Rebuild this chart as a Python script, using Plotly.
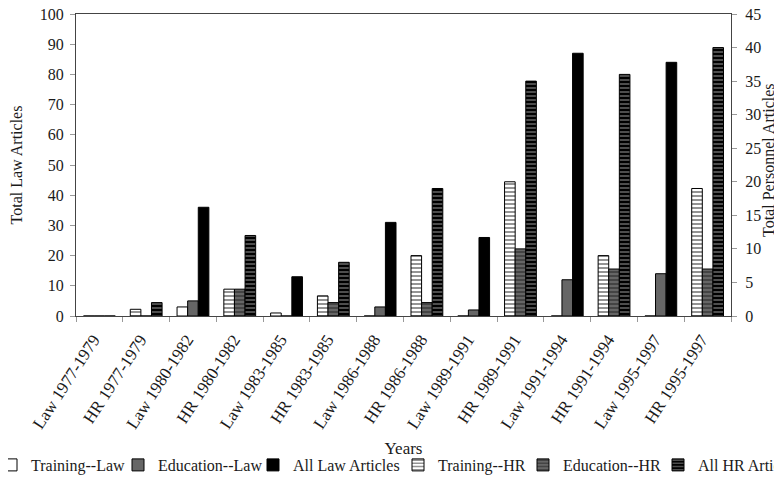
import plotly.graph_objects as go

categories = ["Law 1977-1979", "HR 1977-1979", "Law 1980-1982", "HR 1980-1982",
              "Law 1983-1985", "HR 1983-1985", "Law 1986-1988", "HR 1986-1988",
              "Law 1989-1991", "HR 1989-1991", "Law 1991-1994", "HR 1991-1994",
              "Law 1995-1997", "HR 1995-1997"]
law_categories = categories[0::2]
hr_categories = categories[1::2]

training_law = [0, 3, 1, 0, 0, 0, 0]
education_law = [0, 5, 0, 3, 2, 12, 14]
all_law = [0, 36, 13, 31, 26, 87, 84]

training_hr = [1, 4, 3, 9, 20, 9, 19]
education_hr = [0, 4, 2, 2, 10, 7, 7]
all_hr = [2, 12, 8, 19, 35, 36, 40]

FONT = "Liberation Serif"
TXT = "#1a1a1a"
# the page body adds an 8px margin, so the canvas is sized to fit the window
W, H = 766, 471
PL, PR, PT, PB = 68, 723, 6, 308
PW, PH = PR - PL, PB - PT

line = dict(color="black", width=1)
fig = go.Figure()
fig.add_trace(go.Bar(name="Training--Law", x=law_categories, y=training_law, yaxis="y",
                     offsetgroup="t", legend="legend", legendwidth=82,
                     marker=dict(color="white", line=line)))
fig.add_trace(go.Bar(name="Education--Law", x=law_categories, y=education_law, yaxis="y",
                     offsetgroup="e", legend="legend", legendwidth=90,
                     marker=dict(color="#666666", line=line)))
fig.add_trace(go.Bar(name="All Law Articles", x=law_categories, y=all_law, yaxis="y",
                     offsetgroup="a", legend="legend",
                     marker=dict(color="black", line=line)))
fig.add_trace(go.Bar(name="Training--HR", x=hr_categories, y=training_hr, yaxis="y2",
                     offsetgroup="t", legend="legend2", legendwidth=80,
                     marker=dict(color="white", line=line,
                                 pattern=dict(shape="-", bgcolor="white", fgcolor="#111111",
                                              size=4, solidity=0.45))))
fig.add_trace(go.Bar(name="Education--HR", x=hr_categories, y=education_hr, yaxis="y2",
                     offsetgroup="e", legend="legend2", legendwidth=90,
                     marker=dict(color="#666666", line=line,
                                 pattern=dict(shape="-", bgcolor="#666666", fgcolor="#111111",
                                              size=4, solidity=0.4))))
fig.add_trace(go.Bar(name="All HR Articles", x=hr_categories, y=all_hr, yaxis="y2",
                     offsetgroup="a", legend="legend2",
                     marker=dict(color="black", line=line,
                                 pattern=dict(shape="-", bgcolor="black", fgcolor="#dddddd",
                                              size=4, solidity=0.35))))

axis_line = "#444444"
tick_col = "#999999"
leg_y = -(457 - PB) / PH
leg_common = dict(orientation="h", xanchor="left", y=leg_y, yanchor="middle",
                  font=dict(family=FONT, size=16, color=TXT),
                  bgcolor="rgba(0,0,0,0)", traceorder="normal")
fig.update_layout(
    width=W, height=H,
    margin=dict(l=PL, r=W - PR, t=PT, b=H - PB, autoexpand=False),
    paper_bgcolor="white", plot_bgcolor="white",
    font=dict(family=FONT, size=16, color=TXT),
    barmode="group", bargap=0.32, bargroupgap=0,
    showlegend=True,
    legend=dict(x=(-17 - PL) / PW, **leg_common),
    legend2=dict(x=(390 - PL) / PW, **leg_common),
    xaxis=dict(type="category", categoryorder="array", categoryarray=categories,
               tickangle=-57, tickson="boundaries", ticks="outside", ticklen=5,
               tickcolor=tick_col, tickfont=dict(family=FONT, size=17, color=TXT),
               ticklabelshift=-6, ticklabelstandoff=6,
               showline=True, linecolor=axis_line, linewidth=1,
               mirror=True, showgrid=False, zeroline=False,
               title=dict(text="Years", standoff=10, font=dict(family=FONT, size=17))),
    yaxis=dict(range=[0, 100], dtick=10, ticks="outside", ticklen=5, tickcolor=tick_col,
               ticklabelstandoff=3, ticklabeloverflow="allow",
               showline=True, linecolor=axis_line, linewidth=1, showgrid=False,
               zeroline=False,
               title=dict(text="Total Law Articles", standoff=20,
                          font=dict(family=FONT, size=16))),
    yaxis2=dict(range=[0, 45], dtick=5, overlaying="y", side="right", ticks="outside",
                ticklen=5, tickcolor=tick_col, ticklabelstandoff=5,
                ticklabeloverflow="allow",
                showline=True, linecolor=axis_line,
                linewidth=1, showgrid=False, zeroline=False),
    annotations=[dict(text="Total Personnel Articles", xref="paper", yref="paper",
                      x=1, y=(PB - 152) / PH, xshift=37, xanchor="center",
                      yanchor="middle", textangle=-90, showarrow=False,
                      font=dict(family=FONT, size=16, color=TXT))],
)

fig.write_html("out.html")
